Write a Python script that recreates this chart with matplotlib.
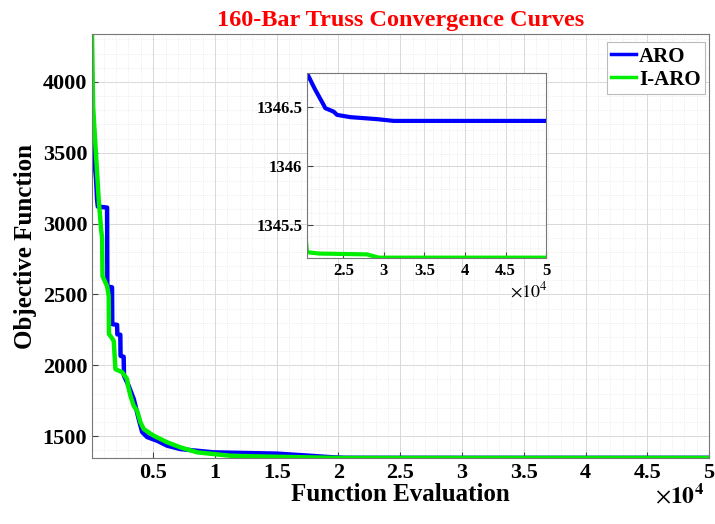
import matplotlib
matplotlib.use("Agg")
import matplotlib.pyplot as plt
from matplotlib.ticker import MultipleLocator, FuncFormatter

plt.rcParams['font.family'] = ['Liberation Serif', 'DejaVu Serif']
plt.rcParams['mathtext.fontset'] = 'stix'

# ---- data (function evaluations, objective) ----
aro_x = [50, 120, 380, 460, 520, 1270, 1290, 1670, 1690, 2080, 2100, 2340, 2360, 2610,
         2640, 3020, 3430, 3830, 4110, 4510, 5320, 6130, 7210, 8570, 9890, 12600, 15000,
         17000, 19500, 20519, 21500, 22568, 22778, 23802, 24222, 25864, 29160, 31210, 50000]
aro_y = [3711, 3570, 3310, 3169, 3120, 3113, 2556, 2550, 2290, 2285, 2218, 2215, 2066, 2060,
         1925, 1854, 1761, 1620, 1528, 1493, 1467, 1432, 1408, 1396, 1385, 1380, 1376,
         1365, 1350, 1346.786, 1346.65, 1346.517, 1346.489, 1346.46, 1346.432, 1346.413,
         1346.396, 1346.381, 1346.381]

iaro_x = [50, 138, 592, 786, 867, 900, 1272, 1402, 1420, 1540, 1807, 1945, 2488, 2893, 2950,
          3160, 3428, 3703, 3971, 4238, 5049, 6135, 7212, 8566, 9900, 11264, 13000, 16000,
          19500, 20519, 22000, 27926, 29358, 50000]
iaro_y = [4338, 3826, 3169, 2958, 2900, 2629, 2558, 2488, 2220, 2207, 2171, 1972, 1951, 1901,
          1860, 1784, 1713, 1678, 1597, 1549, 1502, 1456, 1420, 1385, 1373, 1361, 1357, 1352,
          1346, 1345.265, 1345.253, 1345.246, 1345.218, 1345.218]

labels = ['ARO', 'I-ARO']
colors = ['#0000ff', '#00ee00']

fig = plt.figure(figsize=(7.15, 5.24), dpi=100)
ax = fig.add_axes([0.1287, 0.126, 0.863, 0.809])

fmt_x = FuncFormatter(lambda v, p: ('%g' % (v / 1e4)))
fmt_y = FuncFormatter(lambda v, p: ('%g' % round(v, 3)))

def style(a, xmin, ymin, fs):
    a.xaxis.set_minor_locator(MultipleLocator(xmin))
    a.yaxis.set_minor_locator(MultipleLocator(ymin))
    a.grid(True, which='major', color='#d8d8d8', linewidth=0.7, linestyle='-')
    a.grid(True, which='minor', color='#e6e6e6', linewidth=0.6, linestyle=':')
    a.set_axisbelow(True)
    a.tick_params(which='both', direction='in', top=False, right=False, labelsize=fs)
    a.tick_params(which='minor', length=0)
    a.tick_params(which='major', length=4, color='#444444')
    for s in a.spines.values():
        s.set_color('#777777')
        s.set_linewidth(0.8)
    a.xaxis.set_major_formatter(fmt_x)
    a.yaxis.set_major_formatter(fmt_y)

ax.plot(aro_x, aro_y, color=colors[0], lw=3.2, label=labels[0], solid_joinstyle='round')
ax.plot(iaro_x, iaro_y, color=colors[1], lw=3.2, label=labels[1], solid_joinstyle='round')
ax.set_xlim(50, 50000)
ax.set_ylim(1345.2, 4338)
ax.set_xticks([5000, 10000, 15000, 20000, 25000, 30000, 35000, 40000, 45000, 50000])
ax.set_yticks([1500, 2000, 2500, 3000, 3500, 4000])
style(ax, 1000, 100, 16)
for lab in ax.get_xticklabels() + ax.get_yticklabels():
    lab.set_fontweight('bold')
ax.set_xlabel('Function Evaluation', fontsize=18, fontweight='bold', labelpad=0)
ax.set_ylabel('Objective Function', fontsize=18, fontweight='bold', labelpad=4)
ax.set_title('160-Bar Truss Convergence Curves', fontsize=17.5, fontweight='bold', color='red', pad=6)
fig.text(0.985, 0.03, r'$\times\mathbf{10^{4}}$', ha='right', va='bottom', fontsize=17)

leg = ax.legend(loc='upper right', bbox_to_anchor=(0.9995, 0.99), prop={'weight': 'bold', 'size': 15},
                handlelength=1.2, handletextpad=0.15, borderpad=0.2, labelspacing=0.15,
                borderaxespad=0.2, fancybox=False, edgecolor='#bbbbbb', framealpha=1)
leg.get_frame().set_linewidth(0.8)
for h in leg.get_lines():
    h.set_linewidth(2.5)

# ---- inset ----
ins = fig.add_axes([0.4294, 0.5076, 0.3343, 0.353])
ins.plot(aro_x, aro_y, color=colors[0], lw=3.0)
ins.plot(iaro_x, iaro_y, color=colors[1], lw=3.0)
ins.set_xlim(20519, 50000)
ins.set_ylim(1345.215, 1346.788)
ins.set_xticks([25000, 30000, 35000, 40000, 45000, 50000])
ins.set_yticks([1345.5, 1346, 1346.5])
style(ins, 1000, 0.1, 12)
for lab in ins.get_xticklabels() + ins.get_yticklabels():
    lab.set_fontweight('bold')
fig.text(0.766, 0.425, r'$\times\mathrm{10^{4}}$', ha='right', va='bottom', fontsize=13)

fig.savefig('out.png', dpi=100)
